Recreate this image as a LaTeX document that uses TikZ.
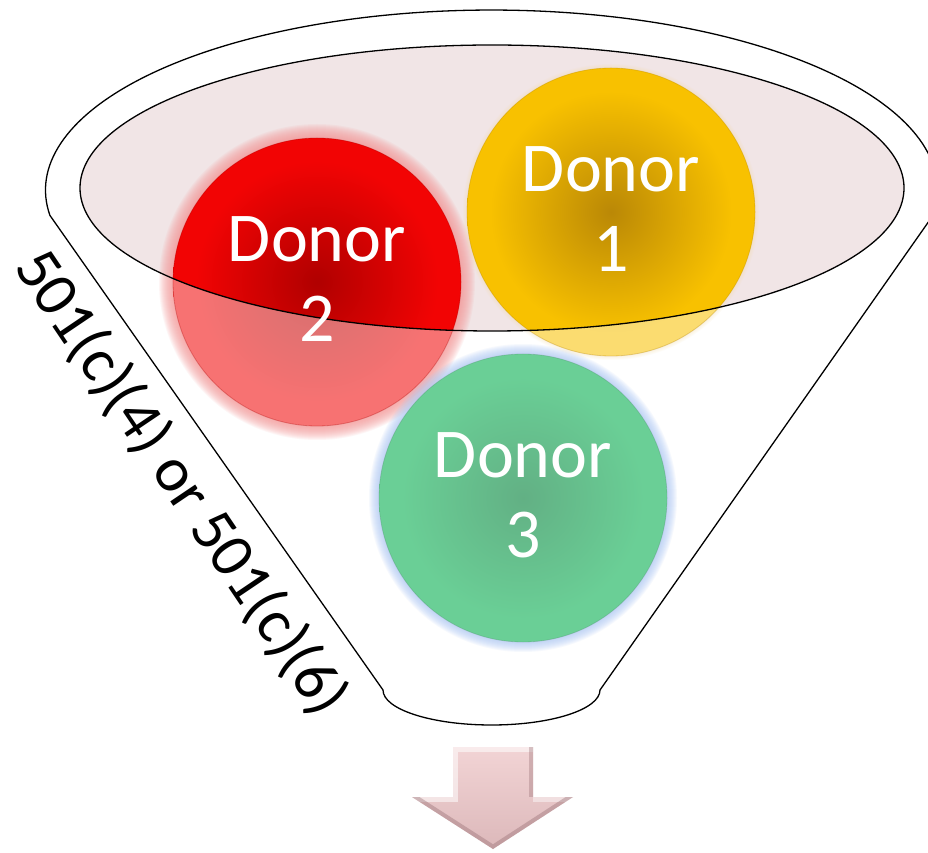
\documentclass[tikz,border=0pt]{standalone}
\usepackage{fontspec}
\setmainfont{Carlito}
\definecolor{redE}{RGB}{242,4,4}
\definecolor{redC}{RGB}{176,0,0}
\definecolor{goldE}{RGB}{248,193,0}
\definecolor{goldC}{RGB}{186,136,6}
\definecolor{grnE}{RGB}{106,207,150}
\definecolor{grnC}{RGB}{98,176,132}
\definecolor{pinkF}{RGB}{241,229,230}
\definecolor{redGlow}{RGB}{246,150,150}
\definecolor{grnGlow}{RGB}{170,198,245}
\definecolor{goldGlow}{RGB}{245,215,150}
\definecolor{arrTop}{RGB}{242,212,213}
\definecolor{arrBot}{RGB}{220,184,186}
\definecolor{arrDark}{RGB}{150,110,115}
\pgfdeclareradialshading{redball}{\pgfpoint{0bp}{0bp}}{color(0bp)=(redC); color(21bp)=(redE); color(25bp)=(redE); color(50bp)=(redE)}
\pgfdeclareradialshading{goldball}{\pgfpoint{0bp}{0bp}}{color(0bp)=(goldC); color(21bp)=(goldE); color(25bp)=(goldE); color(50bp)=(goldE)}
\pgfdeclareradialshading{grnball}{\pgfpoint{0bp}{0bp}}{color(0bp)=(grnC); color(21bp)=(grnE); color(25bp)=(grnE); color(50bp)=(grnE)}
\tikzset{
  funnelline/.style={draw=black, line width=1.3pt, line join=round},
  donortext/.style={text=white, align=center, font=\fontsize{70}{80}\selectfont, inner sep=0pt},
  sidelabel/.style={text=black, font=\fontsize{63}{72}\selectfont, inner sep=0pt},
}
\begin{document}
\begin{tikzpicture}[x=1pt,y=1pt]
\useasboundingbox (0,0) rectangle (928,852);
\fill[white] (0,0) rectangle (928,852);
% centres
\coordinate (c1) at (611,640);
\coordinate (c2) at (317,570);
\coordinate (c3) at (523,354);
\coordinate (ec) at (492,664);
% outer funnel
\draw[funnelline] (933,636.6) arc[start angle=-8.1, end angle=188.1, x radius=446pt, y radius=180pt]
  -- (383,162) arc[start angle=180, end angle=360, x radius=108.5pt, y radius=35pt] -- cycle;
% inner ellipse fill
\fill[pinkF] (ec) ellipse [x radius=412pt, y radius=143pt];
% glows
\foreach \k in {1,...,15}{
  \fill[redGlow, opacity=0.09, even odd rule] (c2) circle[radius=143pt+\k pt] (c2) circle[radius=143pt];
}
\foreach \k in {1,...,11}{
  \fill[grnGlow, opacity=0.1, even odd rule] (c3) circle[radius=143pt+\k pt] (c3) circle[radius=143pt];
}
\foreach \k in {1,...,5}{
  \fill[goldGlow, opacity=0.07, even odd rule] (c1) circle[radius=143pt+\k pt] (c1) circle[radius=143pt];
}
% light (outside) parts of donors 1 and 2
\fill[white] (c2) circle[radius=144pt];
\fill[white] (c1) circle[radius=144pt];
\shade[shading=redball, opacity=0.56] (c2) circle[radius=144pt];
\shade[shading=goldball, opacity=0.56] (c1) circle[radius=144pt];
\begin{scope}
  \clip (ec) ellipse [x radius=412pt, y radius=143pt];
  \shade[shading=redball] (c2) circle[radius=144pt];
  \shade[shading=goldball] (c1) circle[radius=144pt];
\end{scope}
\shade[shading=grnball] (c3) circle[radius=144pt];
% rims
\draw[redC, opacity=0.35, line width=0.8pt] (c2) circle[radius=144pt];
\draw[goldC, opacity=0.35, line width=0.8pt] (c1) circle[radius=144pt];
\draw[grnC!80!black, opacity=0.3, line width=0.8pt] (c3) circle[radius=144pt];
% inner ellipse outline
\draw[funnelline] (ec) ellipse [x radius=412pt, y radius=143pt];
% texts
\node[donortext] (d1) at (611,643) {Donor\\1};
\node[donortext] (d2) at (317,573) {Donor\\2};
\node[donortext] (d3) at (523,357) {Donor\\3};
\node[sidelabel, rotate=-56] (lbl) at (181,369) {501(c)(4) or 501(c)(6)};
% arrow
\shade[top color=arrTop, bottom color=arrBot]
  (453,105) -- (533,105) -- (533,55) -- (573,55) -- (493,3) -- (412,55) -- (453,55) -- cycle;
\begin{scope}
  \clip (453,105) -- (533,105) -- (533,55) -- (573,55) -- (493,3) -- (412,55) -- (453,55) -- cycle;
  \draw[white, opacity=0.55, line width=9pt, line join=miter] (412,55) -- (453,55) -- (453,105) -- (533,105);
  \draw[white, opacity=0.45, line width=9pt] (533,55) -- (573,55);
  \draw[arrDark, opacity=0.35, line width=8pt] (533,105) -- (533,55);
  \draw[arrDark, opacity=0.4, line width=8pt, line join=miter] (573,55) -- (493,3) -- (412,55);
\end{scope}
\end{tikzpicture}
\end{document}
